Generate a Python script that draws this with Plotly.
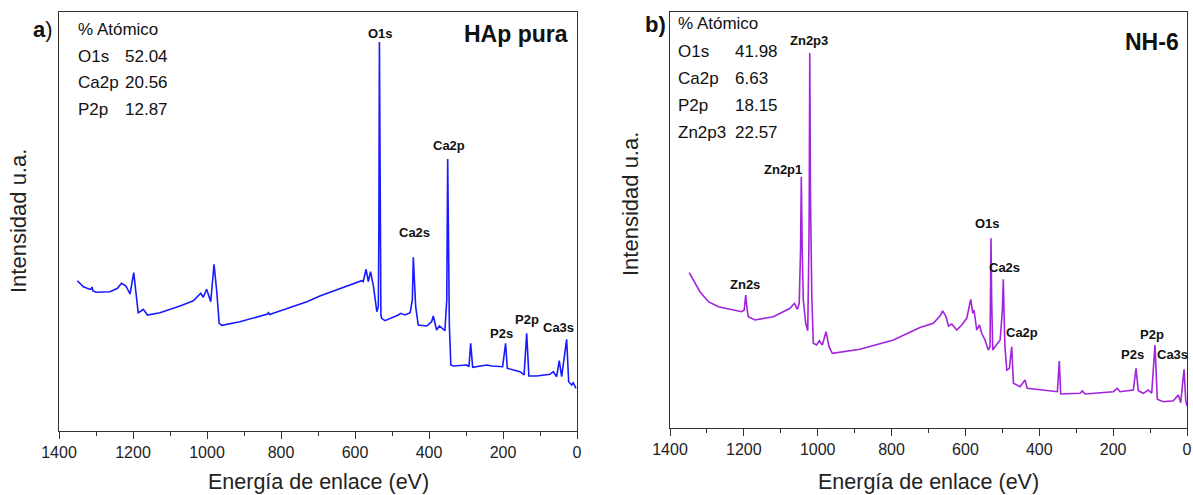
import plotly.graph_objects as go

# ---------------- data: panel a (HAp pura) ----------------
energy_a = [1350.5, 1334, 1316, 1313, 1311, 1308, 1300, 1262, 1242, 1231, 1219, 1208, 1198, 1192,
            1186, 1178, 1172, 1161, 1127, 1073, 1037, 1017, 1010, 1001, 990, 981, 974, 967, 960,
            911, 836, 834, 830, 821, 730, 695, 640, 582, 578, 570, 564, 558, 550, 541, 537, 535.5,
            534, 532.5, 530, 528, 519, 483, 476.5, 465, 451, 445, 442.4, 436, 429, 406, 393, 388.4,
            379.5, 372, 361, 357, 352, 349.5, 347, 345, 341, 334, 298, 292, 287.4, 282, 244, 230.5,
            201, 193, 188.4, 176.5, 154, 143, 136, 130, 109, 73, 64, 55, 48, 41.4, 28, 22.5, 14.4,
            10, 2.7]
intens_a = [150.3, 144.3, 141.5, 142, 144, 140, 138.7, 139.3, 142.7, 147.7, 145, 137, 158.3, 141,
            118.3, 120, 121.7, 116, 118.3, 125, 130.3, 137.7, 133.7, 141.7, 129.3, 166.7, 141, 107.7,
            105.7, 109.3, 117, 118.3, 116.5, 117.7, 129.3, 135, 142.2, 150.3, 149.3, 161.7, 149.3,
            159.3, 144.3, 119.3, 124.3, 200, 389, 250, 116, 112.7, 110.3, 116, 117.7, 116, 118.3, 131,
            173.7, 124.3, 106, 105, 109.3, 115, 101, 105, 101.7, 100.3, 131, 272, 181, 106, 66, 65,
            66, 64.3, 87.7, 63.7, 66, 65, 64.3, 87.7, 62.7, 61.7, 59.3, 56, 97.7, 55, 55, 56.7, 59.3,
            54.3, 70.3, 54.3, 91.7, 49.3, 46, 48.3, 42.7]

# ---------------- data: panel b (NH-6) ----------------
energy_b = [1348, 1337, 1319, 1296, 1269, 1237.5, 1206, 1199, 1195, 1191, 1188, 1170, 1120, 1075,
            1063, 1055, 1050, 1046.5, 1044.4, 1042, 1039, 1032.5, 1027, 1024, 1023, 1021.5, 1019.5,
            1016, 1012, 1003, 995.6, 987.5, 977.5, 969.4, 960.5, 885.5, 795, 723, 687, 669, 661.5,
            652.6, 646, 637, 623.6, 610, 596.5, 585.7, 580, 576.8, 569.4, 562, 556, 547, 538, 533.4,
            531.5, 530.7, 529, 526, 520, 506, 500, 497.4, 495, 493, 488, 481, 474.7, 470, 452, 438.7,
            432.5, 362, 351, 345.8, 342, 289.7, 283.5, 276, 199.6, 188.7, 181.4, 145.4, 138, 132,
            118.3, 104.8, 95.6, 86.7, 80.4, 64.2, 37, 23.6, 17, 8, 3.5, 0]
intens_b = [155.3, 148, 136.3, 126.3, 121.3, 118.7, 116.3, 118, 133, 118, 111.3, 108, 111.3, 119.7,
            124.7, 118.7, 124.7, 178, 251.3, 178, 128, 104.7, 97.3, 178, 221.3, 375, 228, 131.3,
            84.7, 83, 87.3, 83, 96.3, 81.3, 74.7, 78.7, 88, 100.5, 104.7, 112, 117, 111.3, 102, 104,
            98, 103, 109.7, 128.7, 114.7, 118, 98, 103, 94.7, 88, 78, 81.3, 148, 189.7, 128, 78, 81.3,
            88, 118, 148.7, 108, 81.3, 58, 59.7, 81.3, 44.7, 41.3, 48, 39.7, 37.3, 36.3, 67, 34, 34.7,
            37, 34, 36.3, 39.7, 36.3, 38, 59.7, 37.3, 34.7, 38, 34.7, 83, 28.7, 26.3, 27.3, 33, 25.3,
            58.7, 28, 22]

# peak labels: (text, energy, intensity)
peaks_a_text = ["O1s", "Ca2p", "Ca2s", "P2s", "P2p", "Ca3s"]
peaks_a_e = [532, 346, 440, 205, 134, 49]
peaks_a_i = [398, 286, 199, 98, 112, 104]

peaks_b_text = ["Zn2p3", "Zn2p1", "Zn2s", "O1s", "Ca2s", "Ca2p", "P2s", "P2p", "Ca3s"]
peaks_b_e = [1023, 1095, 1197, 540, 493, 448, 147, 94, 39]
peaks_b_i = [388, 259, 144, 205, 161, 96, 74, 94, 74]

# atomic composition tables
comp_a_el = ["O1s", "Ca2p", "P2p"]
comp_a_val = ["52.04", "20.56", "12.87"]
comp_b_el = ["O1s", "Ca2p", "P2p", "Zn2p3"]
comp_b_val = ["41.98", "6.63", "18.15", "22.57"]

tick_vals = [1400, 1200, 1000, 800, 600, 400, 200, 0]

W, H = 1193, 495
FONT = "Liberation Sans, Arial, sans-serif"
AX = "#333333"


def px(x):
    return x / W


def py(y):
    return 1 - y / H


fig = go.Figure()
fig.add_trace(go.Scatter(x=energy_a, y=intens_a, mode="lines", xaxis="x", yaxis="y",
                         line=dict(color="#1a1aff", width=1.6), showlegend=False))
fig.add_trace(go.Scatter(x=energy_b, y=intens_b, mode="lines", xaxis="x2", yaxis="y2",
                         line=dict(color="#a322dd", width=1.6), showlegend=False))

xcommon = dict(range=[1400, 0], tickvals=tick_vals, ticks="outside", ticklen=7, tickwidth=1.3,
               tickcolor=AX, showline=True, linecolor=AX, linewidth=1.3, mirror=True,
               showgrid=False, zeroline=False, automargin=False,
               tickfont=dict(family=FONT, size=16, color="#222"),
               minor=dict(dtick=100, tick0=0, ticks="outside", ticklen=4, tickwidth=1.3, tickcolor=AX))
ycommon = dict(showline=True, linecolor=AX, linewidth=1.3, mirror=True, showticklabels=False,
               ticks="", showgrid=False, zeroline=False, automargin=False)

fig.update_layout(
    template="none",
    width=W, height=H, margin=dict(l=0, r=0, t=0, b=0, pad=0), autosize=False,
    paper_bgcolor="white", plot_bgcolor="white",
    xaxis=dict(domain=[px(59), px(577)], anchor="y", **xcommon),
    yaxis=dict(domain=[py(431), py(12)], anchor="x", range=[0, 419], **ycommon),
    xaxis2=dict(domain=[px(670), px(1187)], anchor="y2", **xcommon),
    yaxis2=dict(domain=[py(428), py(12)], anchor="x2", range=[0, 416], **ycommon),
)

ann = []
for t, e, i in zip(peaks_a_text, peaks_a_e, peaks_a_i):
    ann.append(dict(text="<b>%s</b>" % t, x=e, y=i, xref="x", yref="y", showarrow=False,
                    font=dict(family=FONT, size=13, color="#111")))
for t, e, i in zip(peaks_b_text, peaks_b_e, peaks_b_i):
    ann.append(dict(text="<b>%s</b>" % t, x=e, y=i, xref="x2", yref="y2", showarrow=False,
                    font=dict(family=FONT, size=13, color="#111")))


def comp_block(x_lab, x_val, y0, dy, els, vals):
    out = [dict(text="% Atómico", x=px(x_lab), y=py(y0), xref="paper", yref="paper",
                xanchor="left", yanchor="middle", showarrow=False,
                font=dict(family=FONT, size=17, color="#111"))]
    for k, (el, v) in enumerate(zip(els, vals)):
        yy = y0 + dy * (k + 1)
        out.append(dict(text=el, x=px(x_lab), y=py(yy), xref="paper", yref="paper",
                        xanchor="left", yanchor="middle", showarrow=False,
                        font=dict(family=FONT, size=17, color="#111")))
        out.append(dict(text=v, x=px(x_val), y=py(yy), xref="paper", yref="paper",
                        xanchor="left", yanchor="middle", showarrow=False,
                        font=dict(family=FONT, size=17, color="#111")))
    return out

ann += comp_block(76, 123, 30, 26.4, comp_a_el, comp_a_val)
ann += comp_block(676, 733, 24, 27.2, comp_b_el, comp_b_val)

ann.append(dict(text="<b>HAp pura</b>", x=px(570), y=py(34), xref="paper", yref="paper",
                xanchor="right", yanchor="middle", showarrow=False,
                font=dict(family=FONT, size=23, color="#111")))
ann.append(dict(text="<b>NH-6</b>", x=px(1181), y=py(42), xref="paper", yref="paper",
                xanchor="right", yanchor="middle", showarrow=False,
                font=dict(family=FONT, size=23, color="#111")))
ann.append(dict(text="<b>a</b>)", x=px(43), y=py(30), xref="paper", yref="paper",
                xanchor="center", yanchor="middle", showarrow=False,
                font=dict(family=FONT, size=22, color="#111")))
ann.append(dict(text="<b>b)</b>", x=px(655), y=py(25), xref="paper", yref="paper",
                xanchor="center", yanchor="middle", showarrow=False,
                font=dict(family=FONT, size=22, color="#111")))

for xc in (318, 928.5):
    ann.append(dict(text="Energía de enlace (eV)", x=px(xc), y=py(482), xref="paper", yref="paper",
                    xanchor="center", yanchor="middle", showarrow=False,
                    font=dict(family=FONT, size=21.5, color="#222")))
for xc, yc in ((18, 221), (630, 204)):
    ann.append(dict(text="Intensidad u.a.", x=px(xc), y=py(yc), xref="paper", yref="paper",
                    xanchor="center", yanchor="middle", showarrow=False, textangle=-90,
                    font=dict(family=FONT, size=22, color="#222")))

fig.update_layout(annotations=ann)
fig.write_html("out.html")
